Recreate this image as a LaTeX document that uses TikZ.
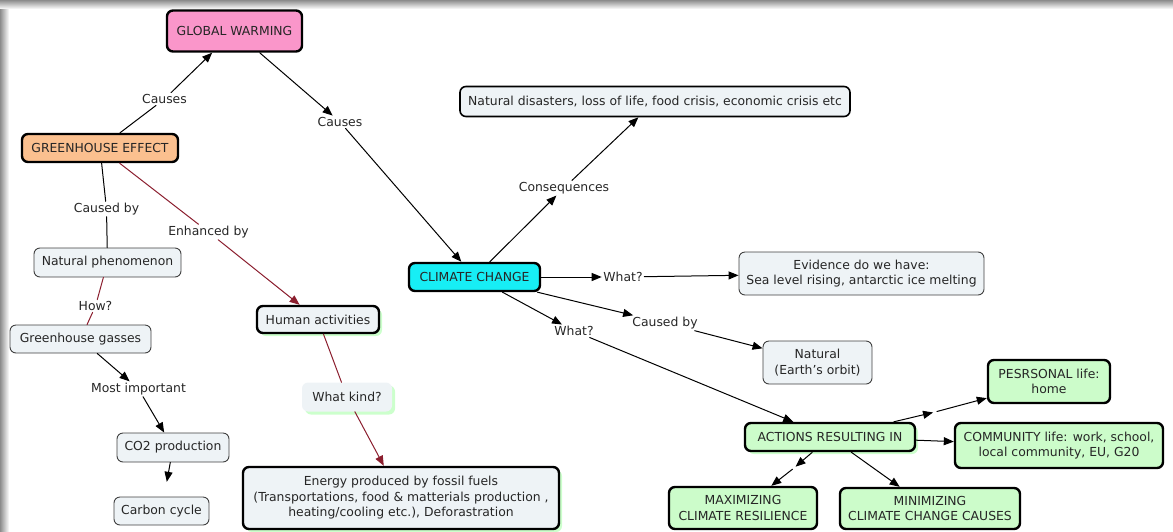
\documentclass[tikz,border=0pt]{standalone}
\usepackage{fontspec}
\setmainfont{DejaVu Sans}
\usetikzlibrary{arrows.meta,shadows}
\definecolor{gwpink}{HTML}{FA96CA}
\definecolor{georange}{HTML}{FBC08F}
\definecolor{cccyan}{HTML}{17EEF5}
\definecolor{boxgray}{HTML}{EEF3F6}
\definecolor{actgreen}{HTML}{CCFCCA}
\definecolor{linkred}{HTML}{8B1E2E}
\begin{document}
\begin{tikzpicture}[x=1pt,y=-1pt,>={Triangle[length=10pt,width=8pt]}, font=\fontsize{12.4}{15.5}\selectfont, line join=round, line cap=round,
	box/.style={draw, rounded corners=6pt, fill=boxgray, inner sep=0pt, align=center, text=black!85},
	thickbox/.style={box, line width=2.4pt},
	thinbox/.style={box, line width=0.9pt, draw=black!75},
	greenbox/.style={thickbox, fill=actgreen},
	gshadow/.style={drop shadow={shadow xshift=3pt, shadow yshift=-3pt, fill=green!20, opacity=1}},
	lnk/.style={inner sep=1.5pt, text=black!85},
	conn/.style={line width=1pt},
	rconn/.style={conn, draw=linkred}]
	\def\W{1173} \def\H{531} % image size
	\useasboundingbox (0,0) rectangle (\W,\H);
	\shade[top color=black!45, bottom color=white] (0,0) rectangle (\W,9);
	\shade[left color=black!45, right color=white] (0,9) rectangle (9,\H);
	% concepts
	\node[thickbox, fill=gwpink, minimum width=135pt, minimum height=41pt] (gw) at (234.5,31) {GLOBAL WARMING};
	\node[thickbox, fill=georange, minimum width=156pt, minimum height=28pt] (ge) at (100,148) {GREENHOUSE EFFECT};
	\node[thinbox, minimum width=147pt, minimum height=29pt] (np) at (107.5,262.5) {Natural phenomenon};
	\node[thinbox, minimum width=141pt, minimum height=28pt] (gg) at (80.5,339) {Greenhouse gasses};
	\node[thinbox, minimum width=112pt, minimum height=29pt] (co2) at (173,447.5) {CO2 production};
	\node[thinbox, minimum width=95pt, minimum height=28pt] (ccy) at (161.5,511) {Carbon cycle};
	\node[thickbox, gshadow, minimum width=122pt, minimum height=27pt] (ha) at (318,319.5) {Human activities};
	\node[box, draw=none, gshadow, minimum width=90pt, minimum height=29pt] (wk) at (347,397) {What kind?};
	\node[thickbox, gshadow, minimum width=316pt, minimum height=62pt] (en) at (401,498) {Energy produced by fossil fuels\\(Transportations, food \& matterials production ,\\heating/cooling etc.), Deforastration};
	\node[thickbox, fill=cccyan, minimum width=131pt, minimum height=28pt] (clim) at (474.5,277) {CLIMATE CHANGE};
	\node[box, line width=1.6pt, minimum width=390pt, minimum height=30pt] (dis) at (655,101.5) {Natural disasters, loss of life, food crisis, economic crisis etc};
	\node[thinbox, minimum width=245pt, minimum height=43pt] (evi) at (861.5,273.5) {Evidence do we have:\\Sea level rising, antarctic ice melting};
	\node[thinbox, minimum width=109pt, minimum height=43pt] (nat) at (817.5,362.5) {Natural\\(Earth's orbit)};
	\node[greenbox, minimum width=122pt, minimum height=43pt] (pers) at (1049,381.5) {PESRSONAL life:\\home};
	\node[greenbox, gshadow, minimum width=170pt, minimum height=28pt] (act) at (830,437) {ACTIONS RESULTING IN};
	\node[greenbox, minimum width=208pt, minimum height=45pt] (comm) at (1059,445.5) {COMMUNITY life: work, school,\\local community, EU, G20};
	\node[greenbox, minimum width=148pt, minimum height=42pt] (maxi) at (743,508) {MAXIMIZING\\CLIMATE RESILIENCE};
	\node[greenbox, minimum width=180pt, minimum height=41pt] (mini) at (930,508.5) {MINIMIZING\\CLIMATE CHANGE CAUSES};
	% linking phrases
	\node[lnk] (l1) at (164.5,99) {Causes};
	\node[lnk] (l2) at (340,122) {Causes};
	\node[lnk] (l3) at (106.5,209) {Caused by};
	\node[lnk] (l4) at (208.5,232) {Enhanced by};
	\node[lnk] (l5) at (95.5,306) {How?};
	\node[lnk] (l6) at (138.5,389) {Most important};
	\node[lnk] (l7) at (564,188) {Consequences};
	\node[lnk] (l8) at (623,277) {What?};
	\node[lnk] (l9) at (665,323) {Caused by};
	\node[lnk] (l10) at (574,331) {What?};
	\coordinate (e1) at (935,412);
	\coordinate (e2) at (794,468);
	% connectors
	\draw[conn] (ge) -- (l1);
	\draw[conn,->] (l1) -- (gw);
	\draw[conn,->] (gw) -- (l2);
	\draw[conn,->] (l2) -- (clim);
	\draw[conn] (ge) -- (l3);
	\draw[conn] (l3) -- (np);
	\draw[rconn] (ge) -- (l4);
	\draw[rconn,->] (l4) -- (ha);
	\draw[rconn] (np) -- (l5);
	\draw[rconn] (l5) -- (gg);
	\draw[conn,->] (gg) -- (l6);
	\draw[conn,->] (l6) -- (co2);
	\draw[conn,->,shorten >=15pt] (co2) -- (ccy);
	\draw[rconn] (ha) -- (wk);
	\draw[rconn,->] (wk) -- (en);
	\draw[conn,->] (clim) -- (l7);
	\draw[conn,->] (l7) -- (dis);
	\draw[conn,->] (clim) -- (l8);
	\draw[conn,->] (l8) -- (evi);
	\draw[conn,->] (clim) -- (l9);
	\draw[conn,->] (l9) -- (nat);
	\draw[conn,->] (clim) -- (l10);
	\draw[conn,->] (l10) -- (act);
	\draw[conn,->,shorten >=2pt] (act) -- (e1);
	\draw[conn,->,shorten <=2pt] (e1) -- (pers);
	\draw[conn,->] (act) -- (comm);
	\draw[conn,->,shorten >=2pt] (act) -- (e2);
	\draw[conn,->,shorten <=2pt] (e2) -- (maxi);
	\draw[conn,->] (act) -- (mini);
\end{tikzpicture}
\end{document}
